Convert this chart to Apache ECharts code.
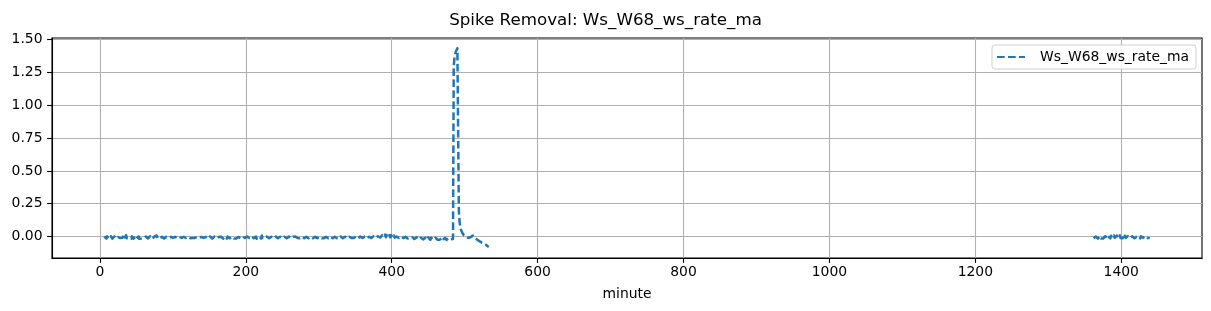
<!DOCTYPE html>
<html>
<head>
<meta charset="utf-8">
<script src="https://cdn.jsdelivr.net/npm/echarts@6/dist/echarts.min.js"></script>
<style>html,body{margin:0;padding:0;background:#fff}#c{width:1211px;height:311px}</style>
</head>
<body>
<div id="c"></div>
<script>
// Segment 1: minutes 6..484, every minute
const seg1Start = 6, seg1Step = 1;
const seg1Values = [
0.000,-0.015,-0.004,-0.017,0.001,-0.012,-0.016,-0.002,-0.014,0.002,-0.013,-0.017,-0.003,-0.015,0.000,-0.011,-0.016,-0.001,-0.014,-0.004,
-0.016,0.001,-0.012,-0.015,0.003,-0.010,0.008,-0.014,-0.002,-0.016,0.010,-0.013,-0.016,0.002,-0.011,-0.015,-0.001,-0.017,0.001,-0.013,
-0.016,-0.002,-0.014,-0.001,-0.017,-0.004,-0.015,0.000,-0.018,-0.003,-0.013,-0.016,-0.001,-0.015,-0.012,-0.003,-0.016,0.000,0.009,-0.012,
-0.015,-0.001,-0.013,0.002,0.010,-0.011,-0.016,-0.002,-0.014,0.000,-0.012,-0.015,0.008,-0.013,-0.017,-0.001,-0.014,0.001,-0.016,-0.003,
0.011,-0.012,-0.015,-0.001,-0.016,-0.003,0.001,-0.013,-0.011,-0.004,-0.013,-0.003,-0.012,-0.005,-0.011,-0.004,-0.012,-0.003,-0.011,-0.005,
-0.012,-0.004,-0.011,-0.003,-0.012,-0.005,-0.011,-0.004,-0.013,-0.003,-0.012,-0.004,-0.011,-0.005,-0.012,-0.003,-0.011,-0.004,-0.013,-0.004,
-0.003,-0.012,-0.004,-0.013,-0.011,-0.003,-0.012,-0.004,-0.002,-0.013,-0.011,-0.004,-0.012,-0.003,-0.013,-0.004,-0.011,-0.003,-0.014,-0.004,
-0.013,-0.002,-0.015,-0.003,-0.016,0.000,-0.014,-0.002,-0.017,-0.004,-0.016,-0.001,-0.015,-0.003,-0.013,-0.002,-0.018,-0.004,-0.016,-0.002,
-0.002,-0.015,-0.003,-0.016,-0.014,0.000,-0.013,-0.003,-0.017,-0.001,-0.015,-0.002,-0.014,-0.004,-0.016,-0.002,-0.013,-0.004,-0.016,-0.001,
-0.001,-0.015,-0.003,-0.014,-0.004,-0.012,-0.002,-0.014,-0.003,-0.013,-0.001,-0.015,-0.003,-0.012,-0.002,-0.014,-0.001,-0.015,-0.004,-0.012,
-0.002,-0.016,-0.001,-0.015,0.000,-0.013,-0.003,-0.014,-0.001,-0.017,-0.002,-0.014,-0.001,-0.013,-0.003,-0.015,0.007,-0.012,-0.015,-0.002,
-0.002,-0.014,-0.016,-0.001,0.008,-0.012,-0.014,0.000,-0.013,-0.002,-0.017,-0.003,-0.014,-0.002,-0.015,-0.001,-0.014,-0.003,-0.013,-0.002,
-0.013,-0.002,-0.015,-0.001,-0.014,-0.004,-0.012,-0.002,-0.015,-0.003,-0.013,-0.002,-0.016,-0.001,-0.014,0.000,-0.013,-0.003,-0.015,-0.002,
-0.003,-0.014,-0.001,-0.015,0.006,-0.012,-0.014,-0.002,-0.013,-0.001,-0.016,-0.003,-0.014,0.000,-0.013,-0.002,-0.015,-0.003,-0.014,-0.002,
-0.014,-0.002,-0.013,-0.003,-0.015,-0.001,-0.013,-0.002,-0.014,-0.003,-0.016,-0.002,-0.013,-0.001,-0.012,-0.003,-0.014,-0.002,-0.013,-0.003,
-0.003,-0.013,-0.002,-0.014,-0.003,-0.012,-0.001,-0.013,-0.003,-0.015,-0.002,-0.013,-0.001,-0.014,-0.003,-0.012,-0.002,-0.015,-0.001,-0.013,
-0.012,-0.002,-0.016,-0.001,0.000,-0.013,-0.003,-0.014,-0.001,-0.015,-0.002,-0.013,-0.001,-0.014,-0.004,-0.012,-0.002,-0.013,-0.003,-0.012,
-0.013,-0.003,-0.012,-0.002,-0.014,-0.001,-0.012,-0.003,-0.013,-0.002,-0.012,-0.001,-0.013,-0.003,-0.012,-0.002,-0.014,-0.001,-0.013,-0.002,
-0.012,-0.001,-0.013,-0.002,-0.011,0.000,-0.012,-0.003,-0.010,0.001,-0.011,-0.002,-0.010,0.001,-0.009,0.002,-0.010,0.004,-0.008,0.006,
-0.004,0.010,-0.005,0.012,-0.003,0.014,-0.006,0.011,-0.004,0.013,-0.005,0.012,-0.007,0.009,-0.006,0.010,-0.008,0.008,-0.009,0.006,
-0.011,-0.001,-0.013,-0.002,-0.012,-0.003,-0.014,-0.001,-0.013,-0.003,-0.012,-0.002,-0.014,-0.003,-0.013,-0.002,-0.015,-0.001,-0.014,-0.004,
-0.004,-0.016,-0.005,-0.018,-0.006,-0.019,-0.007,-0.021,-0.006,-0.020,-0.008,-0.022,-0.007,-0.023,-0.009,-0.021,-0.008,-0.022,-0.009,-0.024,
-0.010,-0.023,-0.009,-0.024,-0.008,-0.021,-0.011,-0.025,-0.009,-0.023,-0.010,-0.024,-0.011,-0.026,-0.010,-0.024,-0.012,-0.025,-0.011,-0.023,
-0.024,-0.012,-0.026,-0.011,-0.027,-0.012,-0.024,-0.010,-0.023,-0.026,-0.012,-0.025,-0.013,-0.024,-0.011,-0.022,-0.012,-0.021,-0.019
];
// Segment 2: minutes 485..533, every minute (spike and decay)
const seg2Start = 485, seg2Step = 1;
const seg2Values = [
1.300,1.360,1.390,1.410,1.425,1.435,1.437,0.200,0.110,0.075,
0.050,0.035,0.025,0.015,0.008,0.004,0.000,-0.003,-0.006,-0.008,
-0.010,-0.007,-0.011,-0.006,-0.009,0.000,0.008,0.012,0.006,-0.008,
-0.015,-0.020,-0.024,-0.018,-0.026,-0.035,-0.041,-0.038,-0.045,-0.048,
-0.046,-0.052,-0.050,-0.058,-0.063,-0.068,-0.072,-0.076,-0.080
];
// Segment 3: minutes 1362..1439, every minute
const seg3Start = 1362, seg3Step = 1;
const seg3Values = [
-0.013,-0.002,-0.015,0.000,-0.014,-0.001,-0.016,-0.003,-0.013,0.001,-0.015,-0.002,-0.012,-0.016,-0.001,-0.014,0.002,-0.013,-0.003,-0.015,
0.001,-0.012,-0.002,-0.014,0.006,-0.011,0.003,-0.013,0.008,-0.010,-0.001,-0.014,0.007,-0.012,0.002,-0.013,0.009,-0.011,-0.015,0.000,
-0.013,0.004,-0.012,0.006,-0.011,-0.002,-0.014,0.003,-0.012,0.007,-0.010,-0.001,-0.013,0.002,-0.012,-0.003,-0.014,0.001,-0.013,-0.002,
0.005,-0.011,0.003,-0.012,-0.015,0.001,-0.013,0.006,-0.010,-0.002,-0.014,0.002,-0.012,0.004,-0.011,-0.014,0.000,-0.012
];
const xTicks = [0, 200, 400, 600, 800, 1000, 1200, 1400];
const yTicks = [0, 0.25, 0.5, 0.75, 1.0, 1.25, 1.5];
const seriesName = 'Ws_W68_ws_rate_ma';

function pairs(start, step, vals) { return vals.map((v, i) => [start + i * step, v]); }
const data = [].concat(
  pairs(seg1Start, seg1Step, seg1Values),
  pairs(seg2Start, seg2Step, seg2Values),
  [[900, null]],
  pairs(seg3Start, seg3Step, seg3Values)
);

const FONT = 'DejaVu Sans';
const chart = echarts.init(document.getElementById('c'), null, {renderer: 'canvas'});
chart.setOption({
  animation: false,
  backgroundColor: '#fff',
  title: {
    text: 'Spike Removal: Ws_W68_ws_rate_ma',
    left: 'center', top: 7,
    textStyle: {fontFamily: FONT, fontSize: 16.7, fontWeight: 'normal', color: '#000'}
  },
  legend: {
    left: 992, top: 45,
    padding: [5, 7, 5, 5],
    borderColor: '#d0d0d0', borderWidth: 1, borderRadius: 3,
    backgroundColor: 'rgba(255,255,255,0.8)',
    itemWidth: 28, itemHeight: 2,
    icon: 'path://M0,0h7.7v2h-7.7z M11,0h7.7v2h-7.7z M22,0h6v2h-6z',
    textStyle: {fontFamily: FONT, fontSize: 13.9, color: '#000', padding: [0, 0, 0, 10]},
    data: [{name: seriesName, itemStyle: {color: '#1f77b4'}}]
  },
  grid: {left: 52, right: 9, top: 38, bottom: 53, show: true, borderColor: '#000', borderWidth: 1.1, backgroundColor: 'transparent'},
  xAxis: {
    type: 'value', min: -65.65, max: 1510.65,
    name: 'minute', nameLocation: 'middle', nameGap: 29,
    nameTextStyle: {fontFamily: FONT, fontSize: 13.9, color: '#000'},
    axisLine: {show: true, onZero: false, lineStyle: {color: '#000', width: 1.1}},
    axisTick: {show: true, length: 4.9, lineStyle: {color: '#000', width: 1.1}, customValues: xTicks},
    axisLabel: {fontFamily: FONT, fontSize: 13.9, color: '#000', margin: 7, customValues: xTicks,
      formatter: v => String(v)},
    splitLine: {show: true, lineStyle: {color: '#b0b0b0', width: 1.1}}
  },
  yAxis: {
    type: 'value', min: -0.164, max: 1.513,
    axisLine: {show: true, onZero: false, lineStyle: {color: '#000', width: 1.1}},
    axisTick: {show: true, length: 4.9, lineStyle: {color: '#000', width: 1.1}, customValues: yTicks},
    axisLabel: {fontFamily: FONT, fontSize: 13.9, color: '#000', margin: 9.5, customValues: yTicks,
      formatter: v => v.toFixed(2)},
    splitLine: {show: true, lineStyle: {color: '#b0b0b0', width: 1.1}}
  },
  series: [{
    name: seriesName, type: 'line', data: data,
    showSymbol: false, symbol: 'none', connectNulls: false,
    itemStyle: {color: '#1f77b4'},
    lineStyle: {color: '#1f77b4', width: 2.5, type: [7.7, 3.3], cap: 'butt', join: 'round'},
    z: 3
  }]
});
</script>
</body>
</html>
